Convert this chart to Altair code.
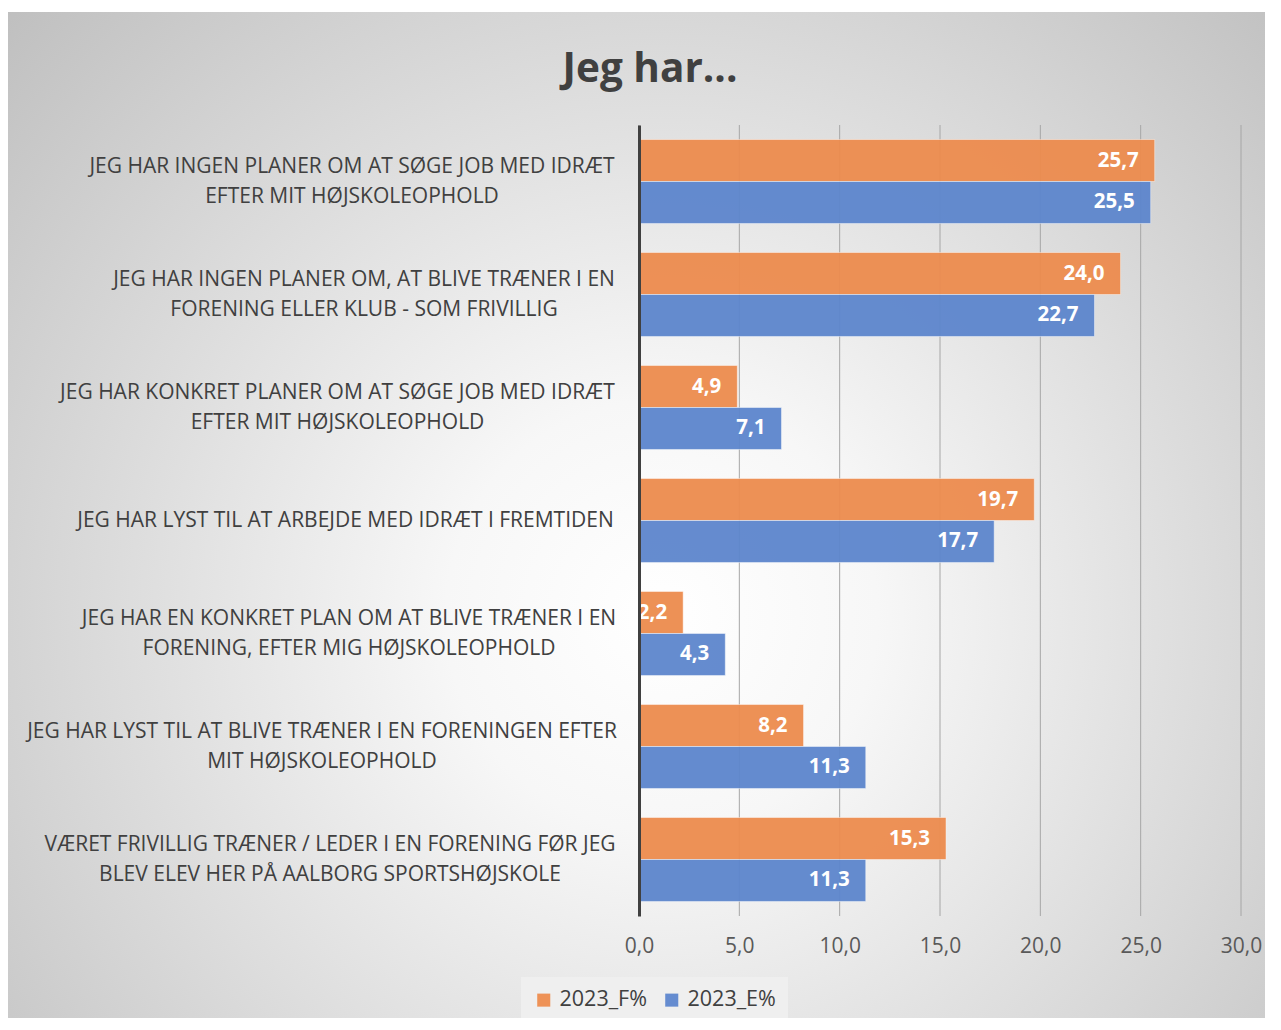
import json
import altair as alt
import pandas as pd

# ---------------- data ----------------
title_text = "Jeg har..."
series = ["2023_F%", "2023_E%"]
colors = ["#ED8C4E", "#5D86CD"]

categories = [
    "JEG HAR INGEN PLANER OM AT SØGE JOB MED IDRÆT\nEFTER MIT HØJSKOLEOPHOLD",
    "JEG HAR INGEN PLANER OM, AT BLIVE TRÆNER I EN\nFORENING ELLER KLUB - SOM FRIVILLIG",
    "JEG HAR KONKRET PLANER OM AT SØGE JOB MED IDRÆT\nEFTER MIT HØJSKOLEOPHOLD",
    "JEG HAR LYST TIL AT ARBEJDE MED IDRÆT I FREMTIDEN",
    "JEG HAR EN KONKRET PLAN OM AT BLIVE TRÆNER I EN\nFORENING, EFTER MIG HØJSKOLEOPHOLD",
    "JEG HAR LYST TIL AT BLIVE TRÆNER I EN FORENINGEN EFTER\nMIT HØJSKOLEOPHOLD",
    "VÆRET FRIVILLIG TRÆNER / LEDER I EN FORENING FØR JEG\nBLEV ELEV HER PÅ AALBORG SPORTSHØJSKOLE",
]
values_f = [25.7, 24.0, 4.9, 19.7, 2.2, 8.2, 15.3]
values_e = [25.5, 22.7, 7.1, 17.7, 4.3, 11.3, 11.3]
x_ticks = [0, 5, 10, 15, 20, 25, 30]

# ---------------- layout / style ----------------
PLOT_W, PLOT_H = 602, 791
PAD = {"left": 631, "top": 117, "right": 24, "bottom": 102}
# distance from the axis line to the centre of each label block
label_centre_dist = [287.5, 275.5, 302, 294, 290.5, 317.5, 309.5]
LINE_H = 30

LABEL_FONT = "Open Sans"
TEXT_COLOR = "#404040"

rows = []
for c, vf, ve in zip(categories, values_f, values_e):
    rows.append({"cat": c, "series": series[0], "value": vf})
    rows.append({"cat": c, "series": series[1], "value": ve})
df = pd.DataFrame(rows)
grid_df = pd.DataFrame({"value": x_ticks})
bg_df = pd.DataFrame({"k": [0]})

pad_cond = {
    "condition": [
        {"test": "datum.value == " + json.dumps(c), "value": d}
        for c, d in zip(categories, label_centre_dist)
    ],
    "value": 300,
}
# centre two-line label blocks vertically on their band
offset_cond = {
    "condition": {"test": "indexof(datum.value, '\\n') >= 0", "value": -LINE_H / 2},
    "value": 0,
}

x_enc = alt.X(
    "value:Q",
    scale=alt.Scale(domain=[0, 30], nice=False, zero=True),
    axis=alt.Axis(
        title=None,
        values=x_ticks,
        labelExpr="replace(format(datum.value, '.1f'), '.', ',')",
        grid=False,
        domain=False,
        ticks=False,
        tickSize=0,
        labelPadding=19,
        labelFontSize=21,
        labelFont=LABEL_FONT,
        labelColor="#595959",
        labelFlush=False,
        zindex=1,
    ),
)

y_enc = alt.Y(
    "cat:N",
    sort=categories,
    scale=alt.Scale(paddingInner=0.257, paddingOuter=0.1285),
    axis=alt.Axis(
        title=None,
        labelExpr="split(datum.label, '\\n')",
        labelAlign="center",
        labelBaseline="middle",
        labelPadding=pad_cond,
        labelOffset=offset_cond,
        labelFontSize=21,
        labelFont=LABEL_FONT,
        labelColor=TEXT_COLOR,
        labelLineHeight=LINE_H,
        labelLimit=2000,
        ticks=False,
        tickSize=0,
        grid=False,
        domainColor="#404040",
        domainWidth=3,
        zindex=1,
    ),
)

bg = alt.Chart(bg_df).mark_rect(
    color={
        "gradient": "radial",
        "x1": 0.52, "y1": 0.58, "r1": 0,
        "x2": 0.52, "y2": 0.58, "r2": 0.78,
        "stops": [
            {"offset": 0.0, "color": "#ffffff"},
            {"offset": 0.22, "color": "#f7f7f7"},
            {"offset": 1.0, "color": "#b8b8b8"},
        ],
    }
).encode(
    x=alt.value(-PAD["left"]),
    x2=alt.value(PLOT_W + PAD["right"]),
    y=alt.value(-PAD["top"] + 4),
    y2=alt.value(PLOT_H + PAD["bottom"]),
)

grid = alt.Chart(grid_df).mark_rule(color="#a6a6a6", strokeWidth=1).encode(x=x_enc)

base = alt.Chart(df).encode(
    y=y_enc,
    yOffset=alt.YOffset("series:N", sort=series, scale=alt.Scale(paddingInner=0, paddingOuter=0)),
    x=x_enc,
)

bars = base.mark_bar(stroke="#ffffff", strokeOpacity=0.45, strokeWidth=1, opacity=0.95).encode(
    color=alt.Color(
        "series:N",
        sort=series,
        scale=alt.Scale(domain=series, range=colors),
        legend=alt.Legend(
            title=None,
            orient="none",
            legendX=-118,
            legendY=852,
            direction="horizontal",
            symbolType="square",
            symbolSize=170,
            symbolStrokeWidth=0,
            labelFontSize=21.5,
            labelFont=LABEL_FONT,
            labelColor=TEXT_COLOR,
            fillColor="#efefef",
            padding=12,
            columnPadding=14,
            labelOffset=5,
        ),
    )
)

texts = base.mark_text(
    align="right", baseline="middle", dx=-16, color="#ffffff",
    fontWeight="bold", fontSize=20.5, font=LABEL_FONT,
).transform_calculate(
    lbl="replace(format(datum.value, '.1f'), '.', ',')"
).encode(text="lbl:N")

chart = alt.layer(bg, grid, bars, texts).properties(
    width=PLOT_W,
    height=PLOT_H,
    padding=PAD,
    autosize=alt.AutoSizeParams(type="none"),
    background="#ffffff",
    title=alt.Title(
        title_text,
        fontSize=40.5,
        fontWeight="bold",
        font=LABEL_FONT,
        color=TEXT_COLOR,
        anchor="middle",
        frame="group",
        dx=-290,
        offset=-78,
    ),
).configure_view(stroke=None)

chart.save("out.html", embed_options={"renderer": "svg", "actions": False})
